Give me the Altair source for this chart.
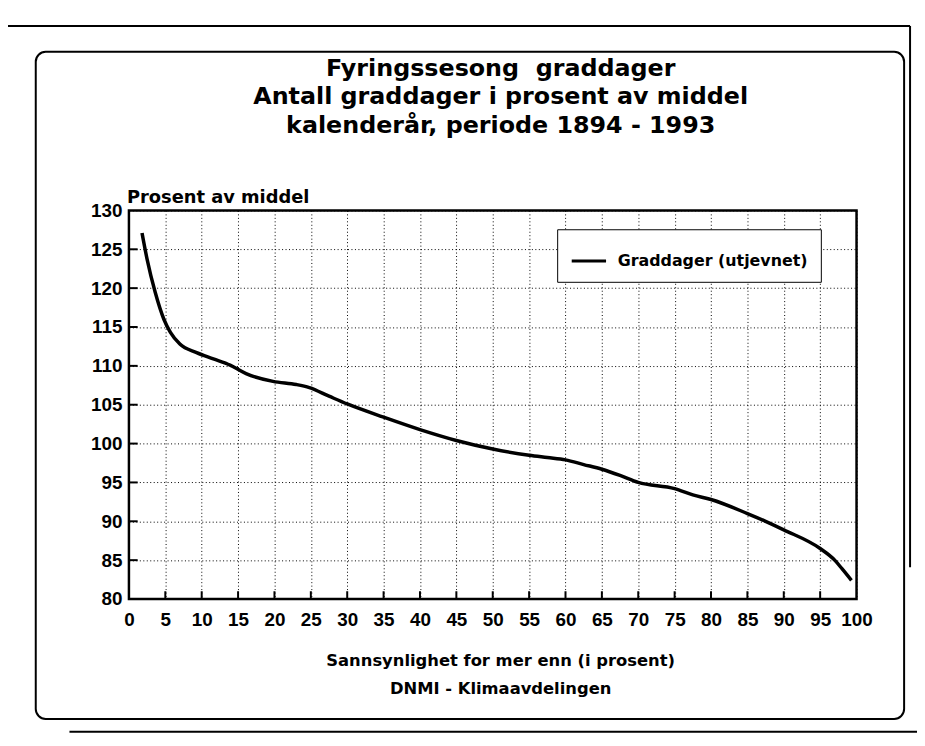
import altair as alt
import pandas as pd

# ---- data ----
prob = [1.8, 2.5, 3.6, 4.8, 5.7, 7.0, 9.3, 11.6, 13.9, 16.1, 19.8, 23.0, 24.8,
        27.5, 30.0, 35.0, 40.0, 45.0, 50.0, 55.0, 57.5, 60.0, 62.5, 65.0, 67.5,
        70.0, 75.0, 77.5, 80.0, 85.0, 87.5, 90.0, 95.0, 97.0, 98.0, 99.3]
pct = [127.1, 123.7, 119.5, 116.0, 114.3, 112.8, 111.7, 110.9, 110.1, 109.0,
       108.0, 107.6, 107.2, 106.1, 105.1, 103.4, 101.8, 100.4, 99.3, 98.5,
       98.2, 97.9, 97.3, 96.7, 95.9, 95.0, 94.2, 93.4, 92.8, 91.0, 90.0, 88.9,
       86.5, 85.0, 83.9, 82.4]
series_name = "Graddager (utjevnet)"
x_ticks = list(range(0, 101, 5))
y_ticks = list(range(80, 131, 5))
title_lines = ["Fyringssesong\u00a0\u00a0graddager",
               "Antall graddager i prosent av middel",
               "kalenderår, periode 1894 - 1993"]
y_title = "Prosent av middel"
x_title = "Sannsynlighet for mer enn (i prosent)"
source_text = "DNMI - Klimaavdelingen"

NUMFONT = "Liberation Sans"
TXTFONT = "DejaVu Sans"
W, H = 734, 392

df = pd.DataFrame({"p": prob, "v": pct, "s": series_name})

xs = alt.Scale(domain=[0, 100], nice=False, zero=False)
ys = alt.Scale(domain=[80, 130], nice=False, zero=False)

x_axis = alt.Axis(values=x_ticks, title=None, grid=True, gridColor="black",
                  gridDash=[1, 2.5], gridWidth=1, gridOpacity=1, ticks=False,
                  domain=False, labelFont=NUMFONT, labelFontSize=19,
                  labelFontWeight="bold", labelColor="black", labelPadding=12,
                  labelFlush=False, labelOverlap=False)
y_axis = alt.Axis(values=y_ticks, title=None, grid=True, gridColor="black",
                  gridDash=[1, 2.5], gridWidth=1, gridOpacity=1, ticks=False,
                  domain=False, labelFont=NUMFONT, labelFontSize=19,
                  labelFontWeight="bold", labelColor="black", labelPadding=7,
                  labelFlush=False, labelOverlap=False)

line = alt.Chart(df).mark_line(strokeWidth=3.5, interpolate="monotone").encode(
    x=alt.X("p:Q", scale=xs, axis=x_axis),
    y=alt.Y("v:Q", scale=ys, axis=y_axis),
    color=alt.Color("s:N", scale=alt.Scale(domain=[series_name], range=["black"]),
                    legend=alt.Legend(title=None, orient="none", legendX=432,
                                      legendY=19, strokeColor="black",
                                      fillColor="white", padding=13,
                                      symbolType="stroke", symbolSize=1200,
                                      symbolStrokeWidth=3, labelFont=TXTFONT,
                                      labelFontSize=16, labelFontWeight="bold",
                                      labelColor="black", labelLimit=400,
                                      labelOffset=10, rowPadding=0)),
)

# inward tick marks
xt = pd.DataFrame({"p": x_ticks[1:-1], "y0": 80, "y1": 81.0})
x_tick_rules = alt.Chart(xt).mark_rule(color="black", strokeWidth=2).encode(
    x=alt.X("p:Q", scale=xs, axis=x_axis),
    y=alt.Y("y0:Q", scale=ys, axis=y_axis), y2="y1:Q")
yt = pd.DataFrame({"v": y_ticks[1:-1], "x0": 0, "x1": 1.2})
y_tick_rules = alt.Chart(yt).mark_rule(color="black", strokeWidth=2).encode(
    y=alt.Y("v:Q", scale=ys, axis=y_axis),
    x=alt.X("x0:Q", scale=xs, axis=x_axis), x2="x1:Q")


def text_layer(txt, x, y, size, align="center"):
    return alt.Chart(pd.DataFrame({"t": [txt]})).mark_text(
        font=TXTFONT, fontSize=size, fontWeight="bold", color="black",
        align=align, baseline="middle").encode(
        text="t:N", x=alt.value(x), y=alt.value(y))


texts = [
    text_layer(title_lines[0], 375, -143, 24),
    text_layer(title_lines[1], 375, -114, 24),
    text_layer(title_lines[2], 375, -85, 24),
    text_layer(y_title, -2, -13, 18, align="left"),
    text_layer(x_title, 375, 455, 16.5),
    text_layer(source_text, 375, 483, 16.5),
]

one = pd.DataFrame({"a": [0]})
# plot frame
plot_frame = alt.Chart(one).mark_rect(
    fill=None, stroke="black", strokeWidth=2.5).encode(
    x=alt.value(0), x2=alt.value(W), y=alt.value(0), y2=alt.value(H))
# rounded outer box and page frame
box = alt.Chart(one).mark_rect(
    fill=None, stroke="black", strokeWidth=2, cornerRadius=10).encode(
    x=alt.value(-94), x2=alt.value(782), y=alt.value(-160), y2=alt.value(513))
frame_left = alt.Chart(one).mark_rule(color="black", strokeWidth=2).encode(
    x=alt.value(-124), y=alt.value(-186), y2=alt.value(540))
frame_top = alt.Chart(one).mark_rule(color="black", strokeWidth=2).encode(
    x=alt.value(-124), x2=alt.value(788), y=alt.value(-186))
frame_right = alt.Chart(one).mark_rule(color="black", strokeWidth=2).encode(
    x=alt.value(788), y=alt.value(-186), y2=alt.value(360))
frame_bottom = alt.Chart(one).mark_rule(color="black", strokeWidth=2).encode(
    x=alt.value(-60), x2=alt.value(795), y=alt.value(526))

chart = alt.layer(
    line, x_tick_rules, y_tick_rules, plot_frame,
    box, frame_left, frame_top, frame_right, frame_bottom, *texts
).properties(
    width=W, height=H,
    padding={"left": 122, "top": 201, "right": 61, "bottom": 137},
    autosize="none",
).configure_view(strokeWidth=0).configure(background="white")

chart.save("out.html", embed_options={"renderer": "svg", "actions": False})
